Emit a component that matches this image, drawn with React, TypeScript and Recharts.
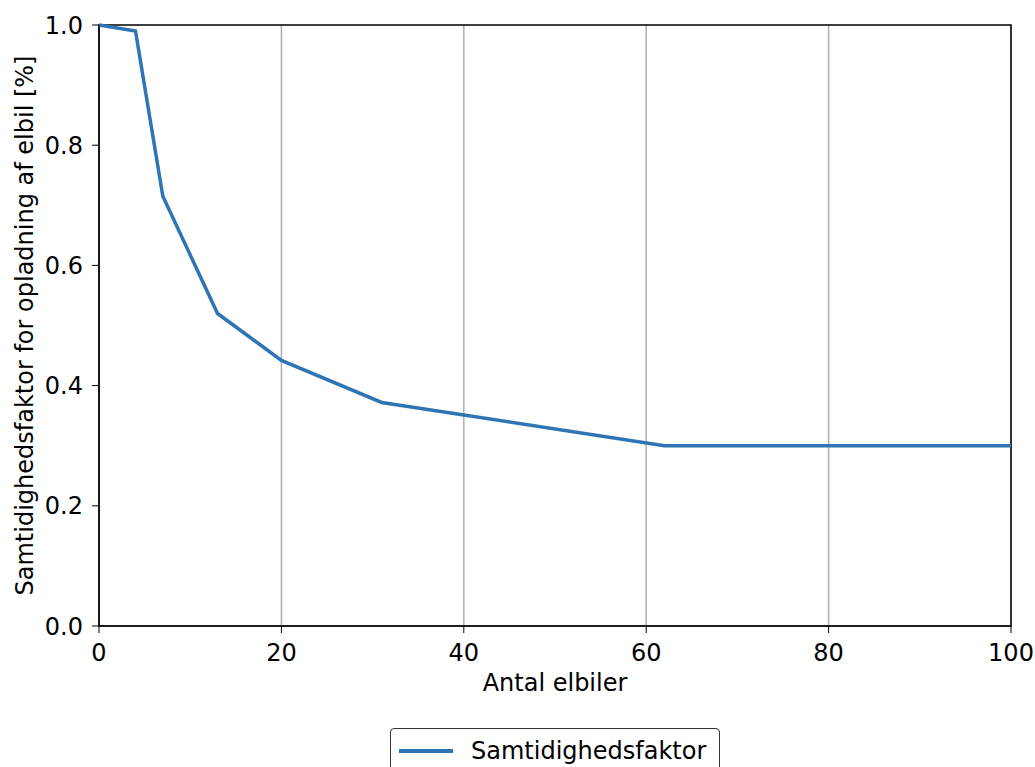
import { LineChart, Line, XAxis, YAxis, CartesianGrid, Legend, ReferenceArea } from "recharts"

const antalElbiler = [0, 4, 7, 13, 20, 31, 62, 100]
const samtidighed = [1.0, 0.99, 0.715, 0.52, 0.442, 0.372, 0.3, 0.3]
const xTicks = [0, 20, 40, 60, 80, 100]
const yTicks = [0, 0.2, 0.4, 0.6, 0.8, 1.0]

const data = antalElbiler.map((x, i) => ({ x, y: samtidighed[i] }))

const FONT = "'DejaVu Sans', sans-serif"
const BLUE = "#2e75b6"
const FS = 24

function LegendBox() {
  return (
    <div style={{ display: "flex", alignItems: "center", boxSizing: "border-box", width: 330, height: 60, border: "1.5px solid #333", borderRadius: 4, padding: "0 0 14px 8px", background: "#fff", fontFamily: FONT, fontSize: FS, color: "#000" }}>
      <div style={{ width: 54, height: 4, background: BLUE, marginRight: 18 }} />
      <span>Samtidighedsfaktor</span>
    </div>
  )
}

export default function App() {
  return (
    <div style={{ position: "absolute", left: 0, top: 0, width: 1035, height: 767, background: "#fff", overflow: "hidden" }}>
      <LineChart width={1035} height={767} data={data} margin={{ top: 25, right: 24, bottom: 0, left: 39 }}>
        <CartesianGrid horizontal={false} stroke="#b0b0b0" strokeWidth={1.5} />
        <XAxis
          dataKey="x"
          type="number"
          domain={[0, 100]}
          ticks={xTicks}
          height={141}
          stroke="#000"
          tickSize={7}
          tickMargin={11}
          tick={{ fontSize: FS, fill: "#000", fontFamily: FONT }}
          label={{ value: "Antal elbiler", position: "insideTop", offset: 48, fontSize: FS, fill: "#000", fontFamily: FONT }}
        />
        <YAxis
          type="number"
          domain={[0, 1]}
          ticks={yTicks}
          width={60}
          stroke="#000"
          tickSize={7}
          tickMargin={9}
          tickFormatter={(v: number) => v.toFixed(1)}
          tick={{ fontSize: FS, fill: "#000", fontFamily: FONT }}
          label={{ value: "Samtidighedsfaktor for opladning af elbil [%]", angle: -90, position: "insideLeft", offset: -15, fontSize: FS, fill: "#000", fontFamily: FONT, style: { textAnchor: "middle" } }}
        />
        <ReferenceArea x1={0} x2={100} y1={0} y2={1} fill="none" stroke="#000" strokeWidth={1.5} ifOverflow="visible" />
        <Line type="linear" dataKey="y" stroke={BLUE} strokeWidth={3.5} dot={false} isAnimationActive={false} />
        <Legend content={<LegendBox />} wrapperStyle={{ position: "absolute", left: 390, top: 728, width: 330, height: 0, overflow: "visible" }} />
      </LineChart>
    </div>
  )
}
